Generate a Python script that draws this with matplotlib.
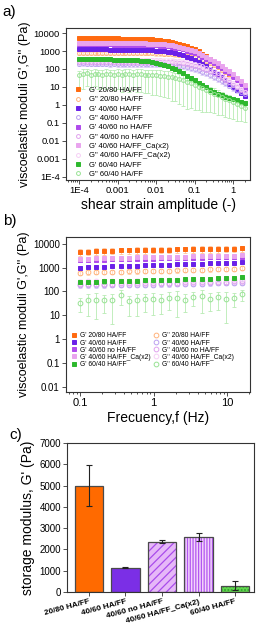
import matplotlib
matplotlib.use("Agg")
import matplotlib.pyplot as plt
import numpy as np
from matplotlib.ticker import LogLocator, NullFormatter

plt.rcParams["font.family"] = ["Liberation Sans", "DejaVu Sans"]
plt.rcParams["hatch.linewidth"] = 0.9

# ---------------- data: panel a (amplitude sweep) ----------------
strain = [1.00e-4, 1.26e-4, 1.58e-4, 2.00e-4, 2.51e-4, 3.16e-4, 3.98e-4, 5.01e-4, 6.31e-4, 7.94e-4,
          1.00e-3, 1.26e-3, 1.58e-3, 2.00e-3, 2.51e-3, 3.16e-3, 3.98e-3, 5.01e-3, 6.31e-3, 7.94e-3,
          0.0100, 0.0126, 0.0158, 0.0200, 0.0251, 0.0316, 0.0398, 0.0501, 0.0631, 0.0794,
          0.100, 0.126, 0.158, 0.200, 0.251, 0.316, 0.398, 0.501, 0.631, 0.794,
          1.00, 1.26, 1.58, 2.00]

a_gp_2080 = [5200, 5250, 5200, 5150, 5200, 5150, 5100, 5100, 5050, 5000,
             5000, 4950, 4950, 4900, 4850, 4800, 4700, 4600, 4500, 4400,
             4200, 4000, 3800, 3500, 3200, 2800, 2450, 2100, 1800, 1500,
             1250, 950, 720, 520, 370, 260, 180, 120, 80, 54,
             36, 24, 16, 11]
a_gpp_2080 = [780, 800, 790, 800, 810, 790, 800, 790, 780, 790,
              780, 790, 770, 780, 770, 760, 770, 760, 750, 750,
              740, 730, 720, 700, 680, 650, 620, 580, 540, 490,
              440, 390, 330, 270, 215, 165, 125, 92, 68, 50,
              36, 26, 18, 13]
a_gp_4060 = [1250, 1250, 1240, 1240, 1230, 1230, 1220, 1220, 1210, 1200,
             1200, 1190, 1180, 1170, 1160, 1150, 1140, 1120, 1100, 1080,
             1050, 1010, 960, 900, 830, 750, 670, 580, 490, 400,
             320, 250, 190, 140, 100, 72, 50, 34, 23, 15,
             10, 7, 4.5, 3]
a_gpp_4060 = [200, 205, 200, 200, 198, 200, 196, 198, 195, 196,
              195, 194, 193, 192, 192, 190, 190, 189, 188, 187,
              185, 183, 180, 176, 170, 162, 152, 140, 127, 113,
              98, 84, 70, 57, 46, 36, 28, 21, 16, 12,
              9, 6.8, 5, 3.8]
a_gp_noha = [2400, 2400, 2380, 2380, 2360, 2360, 2340, 2330, 2320, 2300,
             2290, 2280, 2270, 2250, 2240, 2220, 2200, 2170, 2140, 2100,
             2050, 1980, 1900, 1800, 1680, 1540, 1380, 1220, 1050, 890,
             740, 600, 480, 370, 280, 210, 155, 112, 80, 56,
             36, 23, 14, 8]
a_gpp_noha = [260, 262, 258, 260, 258, 256, 258, 255, 255, 254,
              253, 252, 252, 251, 250, 250, 249, 248, 247, 246,
              245, 244, 242, 239, 235, 228, 218, 205, 190, 172,
              152, 132, 111, 91, 73, 57, 44, 33, 25, 18,
              13, 9.5, 7, 5]
a_gp_ca = [2900, 2920, 2900, 2890, 2880, 2870, 2860, 2850, 2840, 2820,
           2800, 2790, 2770, 2750, 2730, 2710, 2680, 2650, 2610, 2570,
           2500, 2420, 2320, 2200, 2060, 1900, 1720, 1530, 1330, 1130,
           940, 770, 610, 480, 370, 280, 205, 148, 105, 73,
           50, 33, 21, 13]
a_gpp_ca = [320, 318, 322, 318, 316, 318, 315, 314, 314, 312,
            311, 310, 309, 308, 307, 306, 305, 304, 303, 301,
            300, 298, 296, 292, 286, 278, 266, 251, 233, 212,
            189, 165, 140, 116, 94, 74, 57, 43, 32, 23,
            16, 11.5, 8, 5.5]
a_gp_6040 = [350, 355, 345, 350, 348, 345, 342, 340, 338, 335,
             332, 330, 326, 322, 318, 300, 290, 278, 262, 243,
             220, 195, 168, 142, 117, 94, 74, 57, 43, 32,
             24, 17.5, 13, 9.5, 7, 5.4, 4.3, 3.5, 2.9, 2.5,
             2.1, 1.8, 1.5, 1.3]
a_gpp_6040 = [45, 52, 56, 48, 53, 50, 46, 54, 50, 47,
              52, 49, 51, 50, 47, 52, 50, 48, 47, 46,
              45, 43, 41, 38, 35, 31, 27, 23, 19.5, 16,
              13, 10.5, 8.5, 6.8, 5.4, 4.3, 3.4, 2.7, 2.2, 1.8,
              1.4, 1.1, 0.9, 0.7]
# relative scatter of G'' 60/40 (large)
a_err_6040 = [0.80, 0.85, 0.80, 0.85, 0.80, 0.85, 0.80, 0.85, 0.80, 0.85,
              0.85, 0.90, 0.85, 0.90, 0.85, 0.90, 0.90, 0.90, 0.90, 0.92,
              0.92, 0.93, 0.93, 0.94, 0.95, 0.95, 0.96, 0.96, 0.97, 0.96,
              0.96, 0.95, 0.95, 0.94, 0.93, 0.92, 0.92, 0.90, 0.90, 0.90,
              0.88, 0.88, 0.86, 0.85]
# relative scatter of the other series (same order as labels, last unused)
a_rel_err = [0.15, 0.25, 0.12, 0.30, 0.15, 0.30, 0.15, 0.35, 0.20, 0.0]

# ---------------- data: panel b (frequency sweep) ----------------
freq = [0.100, 0.129, 0.166, 0.214, 0.275, 0.355, 0.457, 0.589, 0.759, 0.977,
        1.26, 1.62, 2.09, 2.69, 3.47, 4.47, 5.75, 7.41, 9.55, 12.3, 15.8]

b_gp_2080 = [4500, 4700, 4900, 5000, 5100, 5200, 5300, 5400, 5500, 5550,
             5600, 5700, 5750, 5800, 5900, 5950, 6000, 6100, 6150, 6200, 6300]
b_gpp_2080 = [620, 640, 650, 660, 670, 680, 690, 700, 710, 720,
              730, 740, 760, 780, 800, 820, 840, 860, 880, 910, 950]
b_gp_4060 = [1000, 1030, 1070, 1100, 1130, 1160, 1190, 1220, 1250, 1280,
             1300, 1330, 1360, 1400, 1430, 1460, 1500, 1540, 1580, 1620, 1680]
b_gpp_4060 = [180, 178, 180, 182, 184, 186, 188, 190, 192, 195,
              198, 200, 203, 206, 210, 214, 218, 222, 226, 230, 235]
b_gp_noha = [2000, 2050, 2100, 2150, 2180, 2220, 2260, 2300, 2340, 2380,
             2420, 2460, 2500, 2540, 2580, 2620, 2660, 2700, 2750, 2800, 2850]
b_gpp_noha = [200, 205, 210, 212, 215, 218, 220, 222, 225, 228,
              230, 233, 236, 240, 243, 246, 250, 254, 258, 262, 266]
b_gp_ca = [2300, 2350, 2400, 2450, 2500, 2550, 2600, 2650, 2700, 2740,
           2780, 2820, 2860, 2900, 2950, 3000, 3050, 3100, 3150, 3200, 3250]
b_gpp_ca = [260, 262, 265, 268, 270, 273, 276, 280, 283, 286,
            290, 293, 297, 300, 304, 308, 312, 316, 320, 325, 330]
b_gp_6040 = [250, 255, 260, 265, 270, 275, 280, 285, 290, 295,
             300, 305, 310, 318, 325, 332, 340, 350, 360, 375, 400]
b_gpp_6040 = [33, 45, 45, 42, 43, 70, 38, 45, 48, 50,
              45, 55, 55, 45, 60, 62, 50, 58, 50, 55, 80]
b_err_6040 = [0.60, 0.80, 0.85, 0.70, 0.90, 0.60, 0.75, 0.80, 0.70, 0.80,
              0.75, 0.70, 0.85, 0.70, 0.60, 0.80, 0.70, 0.70, 0.90, 0.60, 0.50]
b_rel_err = [0.30, 0.20, 0.15, 0.20, 0.15, 0.25, 0.20, 0.25, 0.20, 0.0]

labels = ["G' 20/80 HA/FF", "G'' 20/80 HA/FF",
          "G' 40/60 HA/FF", "G'' 40/60 HA/FF",
          "G' 40/60 no HA/FF", "G'' 40/60 no HA/FF",
          "G' 40/60 HA/FF_Ca(x2)", "G'' 40/60 HA/FF_Ca(x2)",
          "G' 60/40 HA/FF", "G'' 60/40 HA/FF"]

# ---------------- data: panel c (bars) ----------------
bar_names = ["20/80 HA/FF", "40/60 HA/FF", "40/60 no HA/FF",
             "40/60 HA/FF_Ca(x2)", "60/40 HA/FF"]
bar_values = [5000, 1150, 2350, 2580, 300]
bar_errors = [970, 30, 70, 170, 200]

# styles: (marker colour, errorbar colour, filled)
styles = [("#FF6A10", "#FFC49A", True), ("#FFB27A", "#FFD9BD", False),
          ("#6A20E8", "#B79BF0", True), ("#BBA0F0", "#DCCDF6", False),
          ("#B04CEC", "#D9A8F4", True), ("#E0A2EE", "#EFD0F6", False),
          ("#E9A4EE", "#F3D0F5", True), ("#F6CFF6", "#FAE6FA", False),
          ("#2DB82D", "#8FD88F", True), ("#98E294", "#B8EBB3", False)]

SPINE = "#333333"


def style_axes(ax):
    for s in ax.spines.values():
        s.set_color(SPINE)
        s.set_linewidth(0.8)
    ax.tick_params(which="both", direction="out", color=SPINE, width=0.6)
    ax.tick_params(which="major", length=3)
    ax.tick_params(which="minor", length=1.6)


def draw_sweep(ax, x, series, rel_err, big_err, ms):
    handles = []
    for i, y in enumerate(series):
        y = np.asarray(y, dtype=float)
        col, ecol, filled = styles[i]
        rel = np.asarray(big_err) if i == 9 else rel_err[i]
        ax.errorbar(x, y, yerr=y * rel, fmt="none", ecolor=ecol,
                    elinewidth=0.6, capsize=1.3, capthick=0.6, zorder=2 + i * 0.1)
        mk = "s" if filled else "o"
        h, = ax.plot(x, y, mk, ms=ms, mfc=col if filled else "none",
                     mec=col, mew=0.7, ls="none", label=labels[i], zorder=3 + i * 0.1)
        handles.append(h)
    return handles


fig = plt.figure(figsize=(2.6, 6.28), dpi=100)
ax_a = fig.add_axes([0.254, 0.7134, 0.708, 0.242])
ax_b = fig.add_axes([0.254, 0.3758, 0.708, 0.2468])
ax_c = fig.add_axes([0.258, 0.0573, 0.719, 0.2373])

# ---- panel a
a_series = [a_gp_2080, a_gpp_2080, a_gp_4060, a_gpp_4060, a_gp_noha,
            a_gpp_noha, a_gp_ca, a_gpp_ca, a_gp_6040, a_gpp_6040]
h_a = draw_sweep(ax_a, strain, a_series, a_rel_err, a_err_6040, 2.8)
ax_a.set_xscale("log")
ax_a.set_yscale("log")
ax_a.set_xlim(10 ** -4.34, 10 ** 0.44)
ax_a.set_ylim(10 ** -4.18, 10 ** 4.28)
ax_a.set_xticks([1e-4, 1e-3, 1e-2, 1e-1, 1], ["1E-4", "0.001", "0.01", "0.1", "1"])
ax_a.set_yticks([1e-4, 1e-3, 1e-2, 1e-1, 1, 10, 100, 1000, 10000],
                ["1E-4", "0.001", "0.01", "0.1", "1", "10", "100", "1000", "10000"])
ax_a.xaxis.set_minor_locator(LogLocator(base=10, subs=np.arange(2, 10), numticks=20))
ax_a.xaxis.set_minor_formatter(NullFormatter())
ax_a.yaxis.set_minor_locator(plt.NullLocator())
style_axes(ax_a)
ax_a.tick_params(axis="both", which="major", labelsize=6.8, pad=1.5)
ax_a.set_xlabel("shear strain amplitude (-)", fontsize=10, labelpad=2)
ax_a.set_ylabel("viscoelastic moduli G',G'' (Pa)", fontsize=9, labelpad=2)
ax_a.legend(handles=h_a, loc="lower left", bbox_to_anchor=(0.043, 0.012),
            frameon=False, fontsize=5.5, handlelength=1.0, handletextpad=1.0,
            labelspacing=0.26, borderpad=0, borderaxespad=0)

# ---- panel b
b_series = [b_gp_2080, b_gpp_2080, b_gp_4060, b_gpp_4060, b_gp_noha,
            b_gpp_noha, b_gp_ca, b_gpp_ca, b_gp_6040, b_gpp_6040]
h_b = draw_sweep(ax_b, freq, b_series, b_rel_err, b_err_6040, 3.4)
ax_b.set_xscale("log")
ax_b.set_yscale("log")
ax_b.set_xlim(10 ** -1.19, 10 ** 1.31)
ax_b.set_ylim(10 ** -2.21, 10 ** 4.28)
ax_b.set_xticks([0.1, 1, 10], ["0.1", "1", "10"])
ax_b.set_yticks([0.01, 0.1, 1, 10, 100, 1000, 10000],
                ["0.01", "0.1", "1", "10", "100", "1000", "10000"])
ax_b.xaxis.set_minor_locator(LogLocator(base=10, subs=np.arange(2, 10), numticks=20))
ax_b.xaxis.set_minor_formatter(NullFormatter())
ax_b.yaxis.set_minor_locator(plt.NullLocator())
style_axes(ax_b)
ax_b.tick_params(axis="y", which="major", labelsize=7, pad=1.5)
ax_b.tick_params(axis="x", which="major", labelsize=8, pad=1.5)
ax_b.set_xlabel("Frecuency,f (Hz)", fontsize=10, labelpad=2)
ax_b.set_ylabel("viscoelastic moduli G',G'' (Pa)", fontsize=9, labelpad=2)
order_b = [0, 2, 4, 6, 8, 1, 3, 5, 7, 9]
ax_b.legend(handles=[h_b[i] for i in order_b], ncol=2, loc="lower left",
            bbox_to_anchor=(0.029, 0.155), frameon=False, fontsize=4.9,
            handlelength=0.8, handletextpad=0.4, labelspacing=0.02,
            columnspacing=0.5, borderpad=0, borderaxespad=0)

# ---- panel c
xpos = np.arange(len(bar_values))
bar_face = ["#FF6A00", "#7B2FE6", "#E6B8F8", "#F3D4FB", "#62D64E"]
bar_hatch = [None, None, "////", "||||||", "....."]
bar_hcol = ["#FF6A00", "#7B2FE6", "#A94CEB", "#B257F0", "#2E9E2E"]
for i in range(len(bar_values)):
    ax_c.bar(xpos[i], bar_values[i], width=0.77, color=bar_face[i],
             hatch=bar_hatch[i], edgecolor=bar_hcol[i], linewidth=0, zorder=2)
ax_c.bar(xpos, bar_values, width=0.77, fill=False, edgecolor="#4A4A4A",
         linewidth=0.9, zorder=3)
ax_c.errorbar(xpos, bar_values, yerr=bar_errors, fmt="none", ecolor="#222222",
              elinewidth=0.8, capsize=2, capthick=0.8, zorder=4)
ax_c.set_xlim(-0.6, 4.52)
ax_c.set_ylim(0, 7000)
ax_c.set_yticks(np.arange(0, 7001, 1000))
ax_c.set_xticks(xpos)
ax_c.set_xticklabels(bar_names, rotation=15, ha="right", va="top",
                     rotation_mode="anchor", fontsize=5.9, fontweight="bold")
style_axes(ax_c)
ax_c.tick_params(axis="y", labelsize=7, pad=1.5)
ax_c.tick_params(axis="x", pad=1.5)
ax_c.set_ylabel("storage modulus, G' (Pa)", fontsize=10, labelpad=3)

# panel letters
fig.text(0.01, 0.992, "a)", fontsize=11, va="top", ha="left")
fig.text(0.01, 0.659, "b)", fontsize=11, va="top", ha="left")
fig.text(0.035, 0.318, "c)", fontsize=11, va="top", ha="left")

fig.savefig("out.png", dpi=100)
